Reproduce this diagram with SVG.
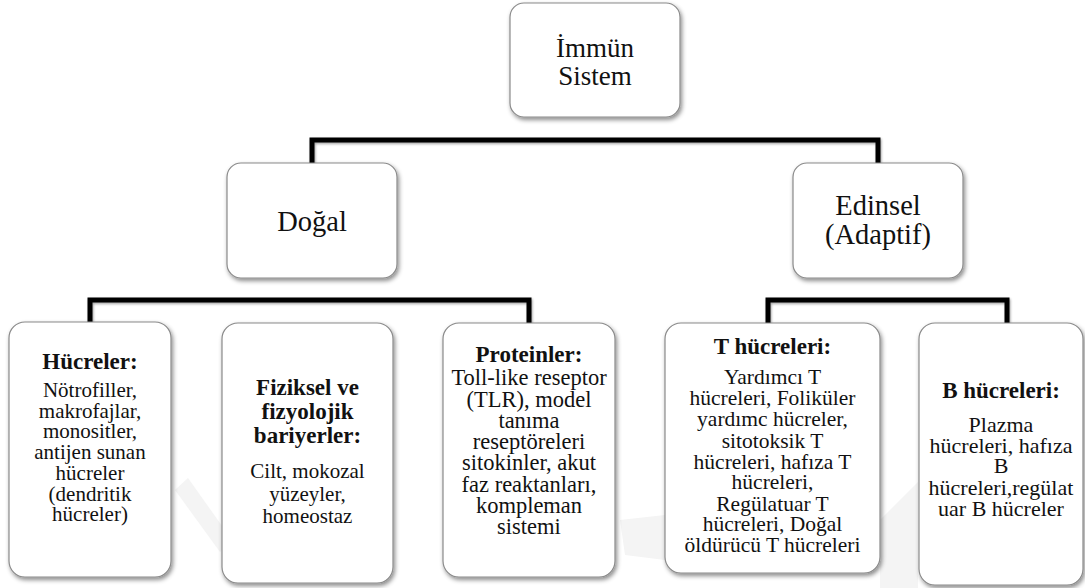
<svg xmlns="http://www.w3.org/2000/svg" width="1085" height="588" viewBox="0 0 1085 588">
<defs>
<filter id="sh" x="-10%" y="-10%" width="125%" height="125%">
<feDropShadow dx="1.5" dy="2.5" stdDeviation="2" flood-color="#000" flood-opacity="0.45"/>
</filter>
<filter id="lsh" x="-5%" y="-50%" width="110%" height="200%">
<feDropShadow dx="1" dy="1.5" stdDeviation="1.2" flood-color="#000" flood-opacity="0.35"/>
</filter>
<style>
.box{fill:#fff;stroke:#8a8a8a;stroke-width:1.2;filter:url(#sh)}
.ln{fill:none;stroke:#000;stroke-width:5;stroke-linejoin:miter;stroke-linecap:square;filter:url(#lsh)}
.wm{fill:#f4f4f4}
</style>
</defs>
<rect width="1085" height="588" fill="#fff"/>
<g id="watermark">
<polygon class="wm" points="175,490 188,478 232,540 220,552"/>
<polygon class="wm" points="620,520 665,515 665,560 625,555"/>
<polygon class="wm" points="880,588 880,520 918,482 918,588"/>
</g>
<g id="connectors">
<path class="ln" d="M595,117 V140"/>
<path class="ln" d="M312,163 V140 H878 V163"/>
<path class="ln" d="M312,278 V300"/>
<path class="ln" d="M90,322 V300 H529 V323"/>
<path class="ln" d="M308,300 V323"/>
<path class="ln" d="M878,278 V300"/>
<path class="ln" d="M768,323 V300 H1007 V323"/>
</g>
<g id="immun">
<rect class="box" x="510" y="3" width="170" height="114" rx="14"/>
<text x="595" y="57" font-family="Liberation Serif" font-size="27" text-anchor="middle" fill="#111">İmmün</text>
<text x="595" y="85" font-family="Liberation Serif" font-size="27" text-anchor="middle" fill="#111">Sistem</text>
</g>
<g id="dogal">
<rect class="box" x="227" y="163" width="170" height="115" rx="14"/>
<text x="312" y="231" font-family="Liberation Serif" font-size="28.5" text-anchor="middle" fill="#111">Doğal</text>
</g>
<g id="edinsel">
<rect class="box" x="793" y="163" width="170" height="115" rx="14"/>
<text x="878" y="215" font-family="Liberation Serif" font-size="28.5" text-anchor="middle" fill="#111">Edinsel</text>
<text x="878" y="244" font-family="Liberation Serif" font-size="28.5" text-anchor="middle" fill="#111">(Adaptif)</text>
</g>
<g id="hucreler">
<rect class="box" x="9" y="322" width="162" height="255" rx="16"/>
<text x="90" y="369" font-family="Liberation Serif" font-size="23" font-weight="bold" text-anchor="middle" fill="#111">Hücreler:</text>
<text x="90" y="397" font-family="Liberation Serif" font-size="21" text-anchor="middle" fill="#111">Nötrofiller,</text>
<text x="90" y="417.7" font-family="Liberation Serif" font-size="21" text-anchor="middle" fill="#111">makrofajlar,</text>
<text x="90" y="438.4" font-family="Liberation Serif" font-size="21" text-anchor="middle" fill="#111">monositler,</text>
<text x="90" y="459" font-family="Liberation Serif" font-size="21" text-anchor="middle" fill="#111">antijen sunan</text>
<text x="90" y="479.8" font-family="Liberation Serif" font-size="21" text-anchor="middle" fill="#111">hücreler</text>
<text x="90" y="500.5" font-family="Liberation Serif" font-size="21" text-anchor="middle" fill="#111">(dendritik</text>
<text x="90" y="521" font-family="Liberation Serif" font-size="21" text-anchor="middle" fill="#111">hücreler)</text>
</g>
<g id="fiziksel">
<rect class="box" x="222" y="323" width="171" height="260" rx="16"/>
<text x="307.5" y="395" font-family="Liberation Serif" font-size="23" font-weight="bold" text-anchor="middle" fill="#111">Fiziksel ve</text>
<text x="307.5" y="419" font-family="Liberation Serif" font-size="23" font-weight="bold" text-anchor="middle" fill="#111">fizyolojik</text>
<text x="307.5" y="443" font-family="Liberation Serif" font-size="23" font-weight="bold" text-anchor="middle" fill="#111">bariyerler:</text>
<text x="307.5" y="478" font-family="Liberation Serif" font-size="21" text-anchor="middle" fill="#111">Cilt, mokozal</text>
<text x="307.5" y="500.5" font-family="Liberation Serif" font-size="21" text-anchor="middle" fill="#111">yüzeyler,</text>
<text x="307.5" y="523" font-family="Liberation Serif" font-size="21" text-anchor="middle" fill="#111">homeostaz</text>
</g>
<g id="proteinler">
<rect class="box" x="443" y="323" width="172" height="254" rx="16"/>
<text x="529" y="362" font-family="Liberation Serif" font-size="23" font-weight="bold" text-anchor="middle" fill="#111">Proteinler:</text>
<text x="529" y="385" font-family="Liberation Serif" font-size="22.5" text-anchor="middle" fill="#111">Toll-like reseptor</text>
<text x="529" y="406.5" font-family="Liberation Serif" font-size="22.5" text-anchor="middle" fill="#111">(TLR), model</text>
<text x="529" y="427.5" font-family="Liberation Serif" font-size="22.5" text-anchor="middle" fill="#111">tanıma</text>
<text x="529" y="448.5" font-family="Liberation Serif" font-size="22.5" text-anchor="middle" fill="#111">reseptöreleri</text>
<text x="529" y="470" font-family="Liberation Serif" font-size="22.5" text-anchor="middle" fill="#111">sitokinler, akut</text>
<text x="529" y="491.5" font-family="Liberation Serif" font-size="22.5" text-anchor="middle" fill="#111">faz reaktanları,</text>
<text x="529" y="512.5" font-family="Liberation Serif" font-size="22.5" text-anchor="middle" fill="#111">kompleman</text>
<text x="529" y="533.5" font-family="Liberation Serif" font-size="22.5" text-anchor="middle" fill="#111">sistemi</text>
</g>
<g id="thucreleri">
<rect class="box" x="665" y="323" width="215" height="250" rx="16"/>
<text x="772.5" y="354" font-family="Liberation Serif" font-size="23" font-weight="bold" text-anchor="middle" fill="#111">T hücreleri:</text>
<text x="772.5" y="384" font-family="Liberation Serif" font-size="21.5" text-anchor="middle" fill="#111">Yardımcı T</text>
<text x="772.5" y="405" font-family="Liberation Serif" font-size="21.5" text-anchor="middle" fill="#111">hücreleri, Foliküler</text>
<text x="772.5" y="425.5" font-family="Liberation Serif" font-size="21.5" text-anchor="middle" fill="#111">yardımc hücreler,</text>
<text x="772.5" y="448" font-family="Liberation Serif" font-size="21.5" text-anchor="middle" fill="#111">sitotoksik T</text>
<text x="772.5" y="468.5" font-family="Liberation Serif" font-size="21.5" text-anchor="middle" fill="#111">hücreleri, hafıza T</text>
<text x="772.5" y="488.5" font-family="Liberation Serif" font-size="21.5" text-anchor="middle" fill="#111">hücreleri,</text>
<text x="772.5" y="510.5" font-family="Liberation Serif" font-size="21.5" text-anchor="middle" fill="#111">Regülatuar T</text>
<text x="772.5" y="531" font-family="Liberation Serif" font-size="21.5" text-anchor="middle" fill="#111">hücreleri, Doğal</text>
<text x="772.5" y="551.5" font-family="Liberation Serif" font-size="21.5" text-anchor="middle" fill="#111">öldürücü T hücreleri</text>
</g>
<g id="bhucreleri">
<rect class="box" x="919" y="323" width="164" height="262" rx="16"/>
<text x="1001" y="398" font-family="Liberation Serif" font-size="23" font-weight="bold" text-anchor="middle" fill="#111">B hücreleri:</text>
<text x="1001" y="431.5" font-family="Liberation Serif" font-size="22" text-anchor="middle" fill="#111">Plazma</text>
<text x="1001" y="452.5" font-family="Liberation Serif" font-size="22" text-anchor="middle" fill="#111">hücreleri, hafıza</text>
<text x="1001" y="473" font-family="Liberation Serif" font-size="22" text-anchor="middle" fill="#111">B</text>
<text x="1001" y="494.5" font-family="Liberation Serif" font-size="22" text-anchor="middle" fill="#111">hücreleri,regülat</text>
<text x="1001" y="516" font-family="Liberation Serif" font-size="22" text-anchor="middle" fill="#111">uar B hücreler</text>
</g>
</svg>
